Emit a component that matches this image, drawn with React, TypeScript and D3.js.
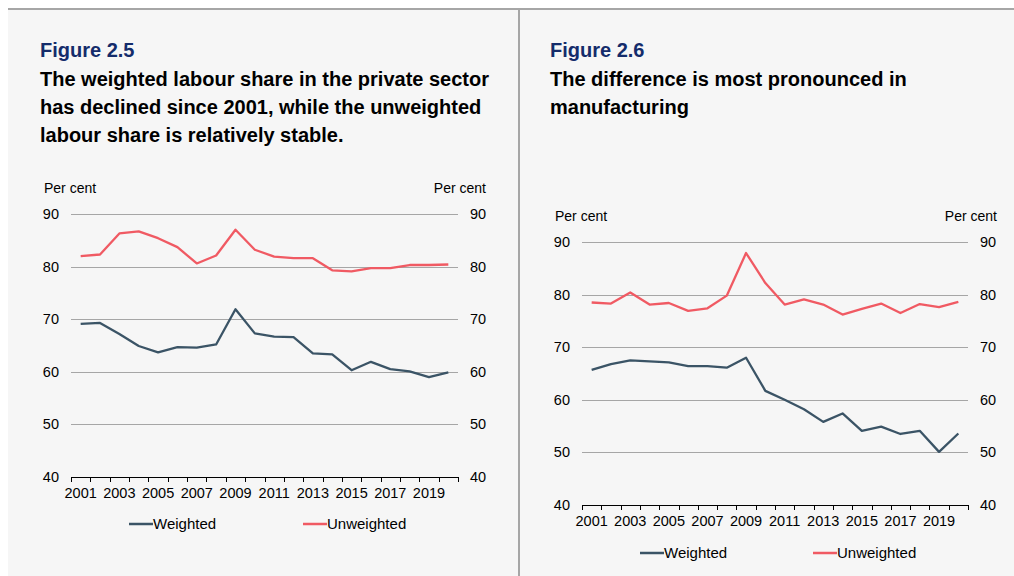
import React from "react";
import * as d3 from "d3";

const years = d3.range(2001, 2021).map(String);
const yearLabels = ["2001", "2003", "2005", "2007", "2009", "2011", "2013", "2015", "2017", "2019"];
const yTicks = [40, 50, 60, 70, 80, 90];

const weighted25 = [69.1, 69.3, 67.2, 64.9, 63.7, 64.7, 64.6, 65.2, 71.9, 67.3, 66.7, 66.6, 63.5, 63.3, 60.3, 61.9, 60.5, 60.1, 59.0, 59.9];
const unweighted25 = [82.0, 82.3, 86.3, 86.7, 85.4, 83.7, 80.6, 82.1, 87.0, 83.2, 81.9, 81.6, 81.6, 79.3, 79.1, 79.7, 79.7, 80.3, 80.3, 80.4];

const weighted26 = [65.7, 66.8, 67.5, 67.3, 67.1, 66.4, 66.4, 66.1, 68.0, 61.7, 60.0, 58.2, 55.8, 57.4, 54.1, 54.9, 53.5, 54.1, 50.1, 53.6];
const unweighted26 = [78.5, 78.3, 80.4, 78.1, 78.4, 76.9, 77.4, 79.8, 87.9, 82.2, 78.1, 79.1, 78.1, 76.2, 77.3, 78.3, 76.5, 78.2, 77.6, 78.6];

const seriesNames = ["Weighted", "Unweighted"];
const colors = ["#3b5466", "#f05a63"];
const FONT = "'Liberation Sans', Arial, sans-serif";

type ChartProps = {
  x0: number; x1: number; yTop: number; yBottom: number;
  perCentY: number; perCentLeftX: number; perCentRightX: number;
  legendY: number; legendX: [number, number];
  series: number[][];
};

function Chart(p: ChartProps) {
  const x = d3.scaleBand<string>().domain(years).range([p.x0, p.x1]).padding(0);
  const y = d3.scaleLinear().domain([40, 90]).range([p.yBottom, p.yTop]);
  const bw = x.bandwidth();
  const line = d3.line<number>()
    .x((_, i) => (x(years[i]) as number) + bw / 2)
    .y((d) => y(d));
  const tickXs = years.map((yr) => x(yr) as number).concat([p.x1]);
  return (
    <g fontFamily={FONT} fill="#000">
      {yTicks.filter((t) => t > 40).map((t) => (
        <line key={t} x1={p.x0} x2={p.x1} y1={Math.round(y(t)) + 0.5} y2={Math.round(y(t)) + 0.5} stroke="#a6a6a6" strokeWidth={1} />
      ))}
      <line x1={p.x0} x2={p.x1} y1={Math.round(y(40)) + 0.5} y2={Math.round(y(40)) + 0.5} stroke="#000" strokeWidth={1} />
      {tickXs.map((tx, i) => (
        <line key={i} x1={Math.round(tx) + 0.5} x2={Math.round(tx) + 0.5} y1={Math.round(y(40))} y2={Math.round(y(40)) + 5} stroke="#000" strokeWidth={1} />
      ))}
      {yTicks.map((t) => (
        <g key={t}>
          <text x={p.x0 - 12} y={y(t)} dy="0.35em" textAnchor="end" fontSize={14.5} fill="#000">{t}</text>
          <text x={p.x1 + 12} y={y(t)} dy="0.35em" textAnchor="start" fontSize={14.5} fill="#000">{t}</text>
        </g>
      ))}
      {yearLabels.map((yr) => (
        <text key={yr} x={(x(yr) as number) + bw / 2} y={y(40) + 21} textAnchor="middle" fontSize={14.5} fill="#000">{yr}</text>
      ))}
      <text x={p.perCentLeftX} y={p.perCentY} fontSize={14} fill="#000">Per cent</text>
      <text x={p.perCentRightX} y={p.perCentY} fontSize={14} textAnchor="end" fill="#000">Per cent</text>
      {p.series.map((s, i) => (
        <path key={i} d={line(s) as string} fill="none" stroke={colors[i]} strokeWidth={2.3} strokeLinejoin="round" />
      ))}
      {seriesNames.map((n, i) => (
        <g key={n}>
          <line x1={p.legendX[i]} x2={p.legendX[i] + 24} y1={p.legendY} y2={p.legendY} stroke={colors[i]} strokeWidth={2.5} />
          <text x={p.legendX[i] + 24} y={p.legendY + 5} fontSize={15} fill="#000">{n}</text>
        </g>
      ))}
    </g>
  );
}

export default function App() {
  return (
    <svg width={1014} height={576} style={{ position: "absolute", left: 0, top: 0 }}>
      <rect x={8} y={8} width={1006} height={568} fill="#f6f6f6" />
      <line x1={8} x2={1014} y1={9} y2={9} stroke="#a6a6a6" strokeWidth={2} />
      <line x1={519} x2={519} y1={8} y2={576} stroke="#a6a6a6" strokeWidth={2} />
      <g fontFamily={FONT} fontWeight="bold" fontSize={20}>
        <text x={40} y={57} fill="#142c6b">Figure 2.5</text>
        <text x={40} y={86} fill="#000">The weighted labour share in the private sector</text>
        <text x={40} y={114} fill="#000">has declined since 2001, while the unweighted</text>
        <text x={40} y={142} fill="#000">labour share is relatively stable.</text>
        <text x={550} y={57} fill="#142c6b">Figure 2.6</text>
        <text x={550} y={86} fill="#000">The difference is most pronounced in</text>
        <text x={550} y={114} fill="#000">manufacturing</text>
      </g>
      <Chart x0={71} x1={458} yTop={214} yBottom={477} perCentY={193} perCentLeftX={44} perCentRightX={486}
        legendY={524} legendX={[129, 303]} series={[weighted25, unweighted25]} />
      <Chart x0={582} x1={968} yTop={242} yBottom={505} perCentY={221} perCentLeftX={555} perCentRightX={997}
        legendY={553} legendX={[640, 813]} series={[weighted26, unweighted26]} />
    </svg>
  );
}
